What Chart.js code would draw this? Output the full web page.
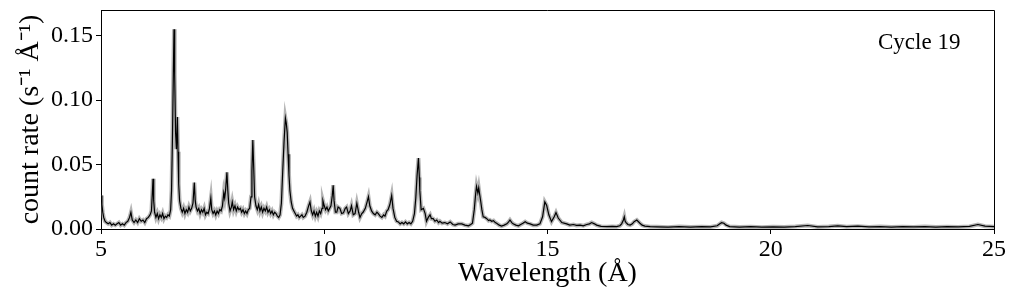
<!DOCTYPE html>
<html>
<head>
<meta charset="utf-8">
<script src="https://cdn.jsdelivr.net/npm/chart.js@4.4.0/dist/chart.umd.min.js"></script>
<style>
  html, body { margin: 0; padding: 0; background: #fff; }
  #wrap { width: 1013px; height: 299px; position: relative; }
</style>
</head>
<body>
<div id="wrap"><canvas id="spectrum"></canvas></div>
<script>
// [wavelength (Å), count rate (s^-1 Å^-1)]
const siRegion = [
  [5.00, 0.026], [5.02, 0.019], [5.04, 0.013], [5.06, 0.009], [5.09, 0.006], [5.12, 0.005],
  [5.16, 0.004], [5.20, 0.005], [5.24, 0.003], [5.28, 0.004], [5.32, 0.003], [5.36, 0.004],
  [5.40, 0.005], [5.44, 0.003], [5.48, 0.004], [5.52, 0.003], [5.56, 0.005], [5.60, 0.006],
  [5.64, 0.009], [5.67, 0.013], [5.70, 0.007], [5.74, 0.005], [5.78, 0.007], [5.82, 0.005],
  [5.86, 0.008], [5.90, 0.006], [5.94, 0.007], [5.98, 0.005], [6.02, 0.008], [6.06, 0.009],
  [6.10, 0.011], [6.13, 0.014], [6.15, 0.028], [6.165, 0.039], [6.18, 0.022], [6.20, 0.013],
  [6.23, 0.009], [6.26, 0.012], [6.29, 0.008], [6.32, 0.011], [6.35, 0.009], [6.38, 0.012],
  [6.41, 0.008], [6.44, 0.010], [6.47, 0.009], [6.50, 0.011], [6.53, 0.010], [6.56, 0.015],
  [6.58, 0.030], [6.60, 0.070], [6.62, 0.120], [6.635, 0.155], [6.65, 0.120], [6.67, 0.075],
  [6.69, 0.062], [6.71, 0.087], [6.725, 0.060], [6.74, 0.035], [6.76, 0.022], [6.79, 0.016],
  [6.82, 0.013], [6.85, 0.016], [6.88, 0.012], [6.91, 0.015], [6.94, 0.013], [6.97, 0.017]
];

const mgRegion = [
  [7.00, 0.014], [7.03, 0.016], [7.06, 0.020], [7.09, 0.036], [7.11, 0.022], [7.13, 0.017],
  [7.16, 0.014], [7.19, 0.016], [7.22, 0.012], [7.25, 0.015], [7.28, 0.013], [7.31, 0.016],
  [7.34, 0.011], [7.37, 0.013], [7.40, 0.012], [7.43, 0.016], [7.46, 0.024], [7.48, 0.015],
  [7.51, 0.012], [7.54, 0.014], [7.57, 0.011], [7.60, 0.014], [7.63, 0.012], [7.66, 0.015],
  [7.69, 0.014], [7.72, 0.018], [7.75, 0.028], [7.77, 0.024], [7.79, 0.030], [7.82, 0.044],
  [7.84, 0.030], [7.86, 0.020], [7.89, 0.014], [7.92, 0.017], [7.94, 0.021], [7.97, 0.015],
  [8.00, 0.018], [8.03, 0.014], [8.06, 0.017], [8.09, 0.015], [8.12, 0.016], [8.15, 0.013],
  [8.18, 0.015], [8.21, 0.012], [8.24, 0.014], [8.27, 0.012], [8.30, 0.015], [8.33, 0.016],
  [8.36, 0.025], [8.38, 0.045], [8.40, 0.069], [8.42, 0.048], [8.44, 0.025], [8.47, 0.018],
  [8.50, 0.015], [8.53, 0.019], [8.56, 0.014], [8.59, 0.017], [8.62, 0.013], [8.65, 0.016],
  [8.68, 0.014], [8.71, 0.017], [8.74, 0.013], [8.77, 0.015], [8.80, 0.012], [8.83, 0.014],
  [8.86, 0.011], [8.89, 0.013], [8.92, 0.012], [8.95, 0.010], [8.98, 0.009], [9.01, 0.011],
  [9.04, 0.020], [9.07, 0.045], [9.10, 0.068], [9.13, 0.086], [9.15, 0.082], [9.17, 0.075],
  [9.19, 0.058], [9.21, 0.042], [9.23, 0.030], [9.26, 0.021], [9.29, 0.016], [9.32, 0.014],
  [9.35, 0.012], [9.38, 0.010], [9.41, 0.011], [9.44, 0.009], [9.47, 0.010], [9.50, 0.011]
];

const neRegion = [
  [9.53, 0.009], [9.57, 0.010], [9.61, 0.013], [9.65, 0.018], [9.68, 0.021], [9.71, 0.014],
  [9.74, 0.011], [9.77, 0.014], [9.80, 0.010], [9.83, 0.013], [9.86, 0.010], [9.89, 0.014],
  [9.92, 0.012], [9.95, 0.016], [9.97, 0.022], [10.00, 0.018], [10.03, 0.015], [10.06, 0.017],
  [10.09, 0.014], [10.12, 0.016], [10.15, 0.018], [10.18, 0.026], [10.20, 0.034], [10.22, 0.022],
  [10.25, 0.013], [10.28, 0.013], [10.31, 0.017], [10.35, 0.016], [10.39, 0.012], [10.43, 0.0125],
  [10.47, 0.016], [10.50, 0.017], [10.54, 0.012], [10.58, 0.014], [10.61, 0.018], [10.65, 0.011],
  [10.69, 0.012], [10.73, 0.020], [10.77, 0.013], [10.80, 0.009], [10.84, 0.012], [10.87, 0.013],
  [10.92, 0.016], [10.96, 0.021], [10.99, 0.025], [11.02, 0.018], [11.06, 0.014], [11.10, 0.012],
  [11.14, 0.011], [11.18, 0.013], [11.21, 0.012], [11.25, 0.010], [11.29, 0.009], [11.33, 0.011],
  [11.36, 0.010], [11.40, 0.014], [11.43, 0.015], [11.47, 0.019], [11.51, 0.026], [11.54, 0.016],
  [11.58, 0.009], [11.62, 0.006], [11.66, 0.0055], [11.70, 0.004], [11.74, 0.005], [11.78, 0.004],
  [11.82, 0.0055], [11.86, 0.004], [11.90, 0.005], [11.94, 0.004], [11.98, 0.006], [12.02, 0.012],
  [12.05, 0.024], [12.08, 0.042], [12.11, 0.055], [12.13, 0.040], [12.14, 0.030], [12.17, 0.015],
  [12.22, 0.016], [12.26, 0.012], [12.29, 0.006], [12.33, 0.009], [12.37, 0.011], [12.40, 0.008]
];

const feRegion = [
  [12.44, 0.008], [12.48, 0.006], [12.52, 0.007], [12.56, 0.005], [12.59, 0.006], [12.64, 0.0045],
  [12.70, 0.005], [12.76, 0.004], [12.82, 0.0055], [12.88, 0.0035], [12.93, 0.003], [13.00, 0.004],
  [13.08, 0.004], [13.15, 0.003], [13.23, 0.0025], [13.28, 0.0035], [13.32, 0.0045], [13.36, 0.015],
  [13.39, 0.027], [13.41, 0.033], [13.44, 0.028], [13.46, 0.032], [13.48, 0.027], [13.50, 0.0225],
  [13.53, 0.015], [13.56, 0.0095], [13.60, 0.009], [13.64, 0.008], [13.68, 0.0065], [13.71, 0.007],
  [13.75, 0.006], [13.79, 0.0065], [13.83, 0.005], [13.86, 0.0045], [13.92, 0.003], [13.97, 0.0023],
  [14.03, 0.003], [14.09, 0.004], [14.13, 0.0055], [14.16, 0.007], [14.20, 0.005], [14.23, 0.004],
  [14.29, 0.003], [14.35, 0.0025], [14.40, 0.0035], [14.45, 0.0045], [14.50, 0.0057], [14.55, 0.0045],
  [14.61, 0.004], [14.68, 0.003], [14.76, 0.003], [14.83, 0.004], [14.89, 0.0095], [14.94, 0.021],
  [14.98, 0.0185], [15.03, 0.011], [15.09, 0.0057], [15.15, 0.0095], [15.19, 0.0127], [15.24, 0.0085],
  [15.32, 0.005], [15.43, 0.004], [15.50, 0.003], [15.58, 0.0035], [15.65, 0.0028], [15.73, 0.003],
  [15.80, 0.0025], [15.88, 0.0035], [15.94, 0.004], [15.99, 0.005], [16.05, 0.004], [16.10, 0.003],
  [16.20, 0.002], [16.33, 0.0018], [16.45, 0.002], [16.55, 0.0018], [16.62, 0.0025], [16.66, 0.004],
  [16.70, 0.007], [16.72, 0.0095], [16.74, 0.006], [16.76, 0.005], [16.80, 0.0035], [16.85, 0.003],
  [16.90, 0.004], [16.94, 0.0057], [17.00, 0.007], [17.07, 0.0045], [17.12, 0.003], [17.18, 0.0023],
  [17.30, 0.0018]
];

const longTail = [
  [17.45, 0.0017], [17.70, 0.0014], [17.95, 0.0019], [18.20, 0.0015], [18.45, 0.0018], [18.65, 0.0016],
  [18.80, 0.0025], [18.86, 0.004], [18.90, 0.005], [18.95, 0.0045], [19.00, 0.003], [19.08, 0.0019],
  [19.30, 0.0015], [19.55, 0.0018], [19.80, 0.0014], [20.05, 0.0017], [20.30, 0.0015], [20.55, 0.0019],
  [20.83, 0.0027], [21.05, 0.0016], [21.30, 0.0019], [21.50, 0.0025], [21.70, 0.0018], [21.95, 0.0022],
  [22.20, 0.0016], [22.45, 0.0019], [22.70, 0.0015], [22.95, 0.0018], [23.20, 0.0016], [23.45, 0.0019],
  [23.70, 0.0015], [23.95, 0.0018], [24.20, 0.0016], [24.45, 0.002], [24.64, 0.0035], [24.80, 0.0022],
  [25.00, 0.0018]
];

const xTicks = [5, 10, 15, 20, 25];
const yTicks = [0.00, 0.05, 0.10, 0.15];

const spectrum = [...siRegion, ...mgRegion, ...neRegion, ...feRegion, ...longTail]
  .map(([x, y]) => ({ x, y }));

Chart.defaults.font.family = '"Liberation Serif", "Times New Roman", serif';
Chart.defaults.color = '#000';

// box round the plot and the cycle label
const framePlugin = {
  id: 'frame',
  afterDraw(chart) {
    const { ctx, chartArea: a } = chart;
    ctx.save();
    ctx.strokeStyle = '#000';
    ctx.lineWidth = 1;
    ctx.beginPath();
    ctx.moveTo(Math.round(a.left), Math.round(a.top) + 0.5);
    ctx.lineTo(Math.round(a.right) + 0.5, Math.round(a.top) + 0.5);
    ctx.lineTo(Math.round(a.right) + 0.5, Math.round(a.bottom));
    ctx.stroke();
    ctx.font = '23px "Liberation Serif"';
    ctx.fillStyle = '#000';
    ctx.textAlign = 'left';
    ctx.textBaseline = 'alphabetic';
    ctx.fillText('Cycle 19', a.right - 116, a.top + 39);
    ctx.restore();
  }
};

new Chart(document.getElementById('spectrum'), {
  type: 'line',
  data: {
    datasets: [
      {
        data: spectrum,
        borderColor: '#000',
        borderWidth: 1.2,
        pointRadius: 0,
        tension: 0,
        fill: false
      },
      {
        // grey error band
        data: spectrum,
        borderColor: 'rgba(120, 120, 120, 0.55)',
        borderWidth: 4,
        pointRadius: 0,
        tension: 0,
        fill: false
      }
    ]
  },
  options: {
    animation: false,
    responsive: true,
    maintainAspectRatio: false,
    layout: { padding: { top: 10, right: 19, left: 0, bottom: 0 } },
    plugins: {
      legend: { display: false },
      tooltip: { enabled: false }
    },
    scales: {
      x: {
        type: 'linear',
        min: 5,
        max: 25,
        afterFit: (s) => { s.height = 70; s.paddingLeft = 0; s.paddingRight = 0; },
        afterBuildTicks: (s) => { s.ticks = xTicks.map((v) => ({ value: v })); },
        ticks: { font: { size: 24 }, padding: 1, maxRotation: 0 },
        grid: { display: true, drawOnChartArea: false, tickLength: 5, color: '#000' },
        border: { display: true, color: '#000', width: 1 },
        title: { display: true, text: 'Wavelength (Å)', font: { size: 28 }, padding: { top: 0, bottom: 9 } }
      },
      y: {
        min: 0,
        max: 0.17,
        afterFit: (s) => { s.width = 101; s.paddingTop = 0; s.paddingBottom = 0; },
        afterBuildTicks: (s) => { s.ticks = yTicks.map((v) => ({ value: v })); },
        ticks: { font: { size: 24 }, padding: 3, callback: (v) => v.toFixed(2) },
        grid: { display: true, drawOnChartArea: false, tickLength: 5, color: '#000' },
        border: { display: true, color: '#000', width: 1 },
        title: { display: true, text: 'count rate (s⁻¹ Å⁻¹)', font: { size: 28 }, padding: { top: 14, bottom: 0 } }
      }
    }
  },
  plugins: [framePlugin]
});
</script>
</body>
</html>
